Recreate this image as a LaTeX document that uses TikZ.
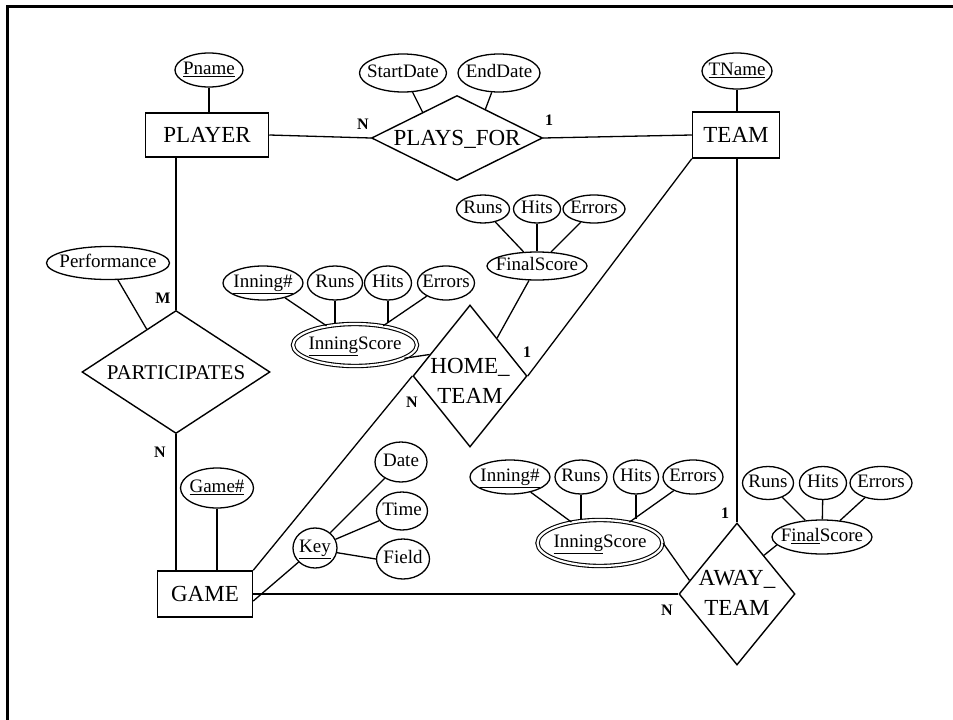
\documentclass[tikz,border=0pt]{standalone}
\usepackage{fontspec}
\setmainfont{Liberation Serif}
\usetikzlibrary{shapes.geometric,calc}

% text that takes no width, so the shape size comes from the minimum sizes alone
\newcommand\midtext[1]{\makebox[0pt]{#1}}

\tikzset{
  entity/.style={draw, rectangle, line width=1.5pt, inner sep=0pt,
    font=\fontsize{23}{23}\selectfont, text height=15pt, text depth=0pt},
  rel/.style={draw, diamond, line width=1.4pt, inner sep=0pt,
    font=\fontsize{23}{30}\selectfont},
  attr/.style={draw, ellipse, line width=1.3pt, inner sep=0pt,
    font=\fontsize{19}{19}\selectfont, text height=13pt, text depth=4pt},
  multi/.style={attr, double, double distance=2.2pt, line width=1.1pt},
  card/.style={font=\bfseries\fontsize{16}{16}\selectfont, inner sep=0pt},
  link/.style={line width=1.3pt},
  frame/.style={line width=3pt},
}

\begin{document}
\begin{tikzpicture}[x=1pt, y=-1pt]
\useasboundingbox (0,0) rectangle (953,720);
\fill[white] (0,0) rectangle (953,720);

% outer frame
\draw[frame] (7,720) -- (7,6) -- (953,6);

% ---------- entities ----------
\node[entity, minimum width=123, minimum height=44] (player) at (207,135) {\midtext{PLAYER}};
\node[entity, minimum width=87,  minimum height=46] (team)   at (736,135) {\midtext{TEAM}};
\node[entity, minimum width=95,  minimum height=46] (game)   at (205,594) {\midtext{GAME}};

% ---------- relationships ----------
\node[rel, minimum width=171, minimum height=85, text height=15pt, text depth=0pt] (pf) at (457,138) {\midtext{PLAYS\_FOR}};
\node[rel, minimum width=188, minimum height=123, font=\fontsize{21}{21}\selectfont, text height=14pt, text depth=0pt] (part) at (176,372) {\midtext{PARTICIPATES}};
\node[rel, minimum width=114, minimum height=142] (home) at (470,376)
  {\midtext{\raisebox{-12.5pt}[0pt][0pt]{\begin{tabular}{@{}c@{}}HOME\_\\TEAM\end{tabular}}}};
\node[rel, minimum width=116, minimum height=142] (away) at (737,594)
  {\midtext{\begin{tabular}{@{}c@{}}AWAY\_\\TEAM\end{tabular}}};

% ---------- attributes ----------
\node[attr, minimum width=68, minimum height=34] (pname) at (209,70) {\midtext{\underline{Pname}}};
\node[attr, minimum width=70, minimum height=36] (tname) at (737,71) {\midtext{\underline{TName}}};
\node[attr, minimum width=87, minimum height=38] (sdate) at (403,73) {\midtext{StartDate}};
\node[attr, minimum width=82, minimum height=38] (edate) at (499,73) {\midtext{EndDate}};
\node[attr, minimum width=123, minimum height=33] (perf) at (108,263) {\midtext{Performance}};
\node[attr, minimum width=73, minimum height=40] (gnum) at (217,488) {\midtext{\underline{Game\#}}};

% key of GAME
\node[attr, minimum width=44, minimum height=40] (key)   at (315,548) {\midtext{\underline{Key}}};
\node[attr, minimum width=52, minimum height=40] (date)  at (401,462) {\midtext{Date}};
\node[attr, minimum width=51, minimum height=38] (time)  at (402,511) {\midtext{Time}};
\node[attr, minimum width=53, minimum height=40] (field) at (403,559) {\midtext{Field}};

% home team final score
\node[attr, minimum width=100, minimum height=28] (fs1)  at (537,266) {\midtext{FinalScore}};
\node[attr, minimum width=53, minimum height=28] (fr1)  at (483,209) {\midtext{Runs}};
\node[attr, minimum width=47, minimum height=28] (fh1)  at (537,209) {\midtext{Hits}};
\node[attr, minimum width=62, minimum height=28] (fe1)  at (594,209) {\midtext{Errors}};

% home team inning scores
\node[multi, minimum width=124, minimum height=42] (inn1) at (355,345) {\midtext{\underline{Inning}Score}};
\node[attr, minimum width=80, minimum height=34] (ino1) at (263,283) {\midtext{\underline{Inning\#}}};
\node[attr, minimum width=55, minimum height=34] (ir1)  at (335,283) {\midtext{Runs}};
\node[attr, minimum width=47, minimum height=34] (ih1)  at (388,283) {\midtext{Hits}};
\node[attr, minimum width=57, minimum height=34] (ie1)  at (446,283) {\midtext{Errors}};

% away team inning scores
\node[multi, minimum width=125, minimum height=46] (inn2) at (600,543) {\midtext{\underline{Inning}Score}};
\node[attr, minimum width=80, minimum height=34] (ino2) at (510,477) {\midtext{\underline{Inning\#}}};
\node[attr, minimum width=52, minimum height=34] (ir2)  at (581,477) {\midtext{Runs}};
\node[attr, minimum width=45, minimum height=34] (ih2)  at (636,477) {\midtext{Hits}};
\node[attr, minimum width=60, minimum height=34] (ie2)  at (693,477) {\midtext{Errors}};

% away team final score
\node[attr, minimum width=100, minimum height=34] (fs2) at (822,537) {\midtext{F\underline{inal}Score}};
\node[attr, minimum width=51, minimum height=33] (fr2) at (768,483) {\midtext{Runs}};
\node[attr, minimum width=47, minimum height=33] (fh2) at (823,483) {\midtext{Hits}};
\node[attr, minimum width=62, minimum height=33] (fe2) at (881,483) {\midtext{Errors}};

% ---------- cardinalities ----------
\node[card] (c1) at (363,124) {N};
\node[card] (c2) at (549,120) {1};
\node[card] (c3) at (163,298) {M};
\node[card] (c4) at (160,452) {N};
\node[card] (c5) at (527,352) {1};
\node[card] (c6) at (412,402) {N};
\node[card] (c7) at (725,513) {1};
\node[card] (c8) at (667,610) {N};

% ---------- relationship lines ----------
\draw[link] (player.east) -- (pf.west);
\draw[link] (pf.east) -- (team.west);
\draw[link] (part.north |- player.south) -- (part.north);
\draw[link] (part.south) -- (part.south |- game.north);
\draw[link] (game.north east) -- (home.west);
\draw[link] (home.east) -- (team.south west);
\draw[link] (game.east) -- (away.west);
\draw[link] (away.north |- team.south) -- (away.north);

% ---------- attribute lines ----------
\draw[link] (pname) -- (pname |- player.north);
\draw[link] (tname) -- (tname |- team.north);
\draw[link] (sdate) -- ($(pf.west)!0.6!(pf.north)$);
\draw[link] (edate) -- ($(pf.north)!0.33!(pf.east)$);
\draw[link] (perf) -- ($(part.west)!0.69!(part.north)$);
\draw[link] (gnum) -- (gnum |- game.north);

\draw[link] ([yshift=-7pt]game.east) -- (key);
\draw[link] (key) -- (date);
\draw[link] (key) -- (time);
\draw[link] (key.-12) -- (field.west);

\draw[link] (fr1) -- (fs1);
\draw[link] (fh1) -- (fs1);
\draw[link] (fe1) -- (fs1);
\draw[link] (fs1) -- ($(home.north)!0.47!(home.east)$);

\draw[link] (ino1) -- (inn1);
\draw[link] (ir1.south) -- (ir1.south |- inn1.north);
\draw[link] (ih1.south) -- (ih1.south |- inn1.north);
\draw[link] (ie1) -- (inn1);
\draw[link] (inn1.-15) -- ($(home.west)!0.3!(home.north)$);

\draw[link] (ino2) -- (inn2);
\draw[link] (ir2.south) -- (ir2.south |- inn2.north);
\draw[link] (ih2.south) -- (ih2.south |- inn2.north);
\draw[link] (ie2) -- (inn2);
\draw[link] (inn2.east) -- ($(away.west)!0.19!(away.north)$);

\draw[link] (fr2) -- (fs2);
\draw[link] (fh2) -- (fs2);
\draw[link] (fe2) -- (fs2);
\draw[link] (fs2.190) -- ($(away.north)!0.46!(away.east)$);
\end{tikzpicture}
\end{document}
